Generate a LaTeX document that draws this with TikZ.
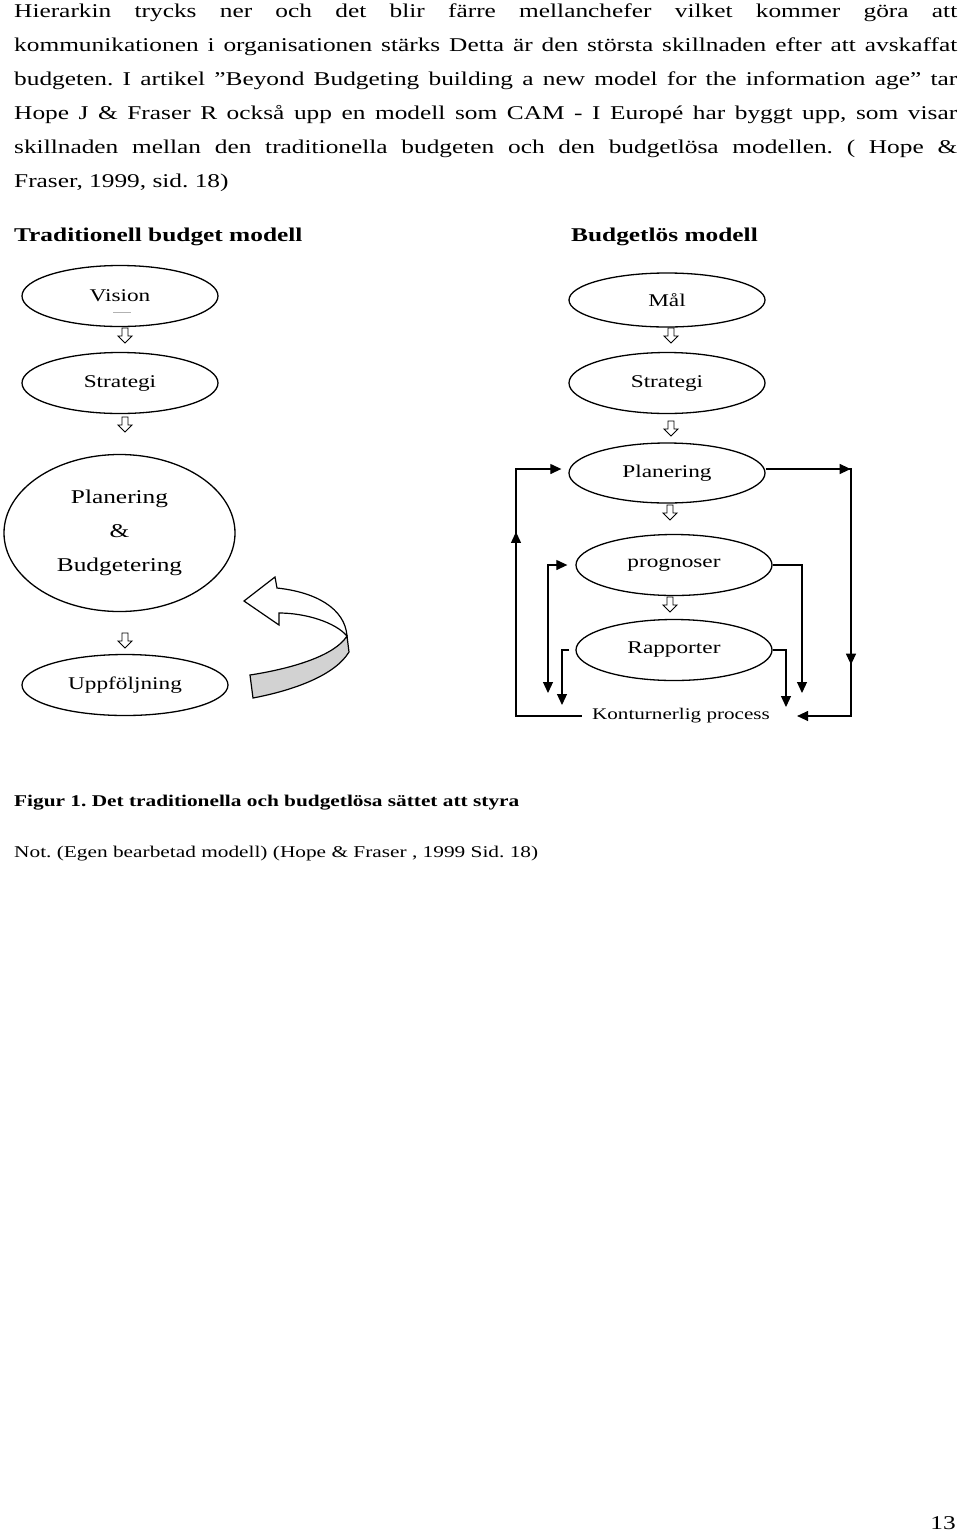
\documentclass[tikz,border=0pt]{standalone}
\usepackage{fontspec}
\setmainfont[FakeStretch=1.3]{Liberation Serif}
\frenchspacing
\usetikzlibrary{shapes.geometric,arrows.meta,decorations.markings,positioning}

\tikzset{
  boll/.style={draw, ellipse, line width=1.3pt, inner sep=0pt,
    minimum width=196pt, minimum height=61pt,
    font=\fontsize{17.9}{22}\selectfont},
  rad/.style={anchor=base west, inner sep=0pt, font=\fontsize{19.5}{34}\selectfont},
  linje/.style={line width=1.2pt},
  pil/.style={linje, -{Triangle[length=11pt,width=10pt]}},
  dubbelpil/.style={linje, {Triangle[length=11pt,width=10pt]}-{Triangle[length=11pt,width=10pt]}},
  pilned/.pic={\draw[line width=0.9pt] (-3,0) -- (3,0) -- (3,8) -- (7,8) -- (0,15) -- (-7,8) -- (-3,8) -- cycle;}
}

\begin{document}
\begin{tikzpicture}[x=1pt,y=-1pt]
  \useasboundingbox (0,0) rectangle (960,1532);

  % brodtext
  \node[rad] (rad1) at (14,17) {\makebox[943pt][s]{Hierarkin trycks ner och det blir färre mellanchefer vilket kommer göra att}};
  \node[rad] (rad2) at (14,51) {\makebox[943pt][s]{kommunikationen i organisationen stärks Detta är den största skillnaden efter att avskaffat}};
  \node[rad] (rad3) at (14,85) {\makebox[943pt][s]{budgeten. I artikel ”Beyond Budgeting building a new model for the information age” tar}};
  \node[rad] (rad4) at (14,119) {\makebox[943pt][s]{Hope J \& Fraser R också upp en modell som CAM - I Europé har byggt upp, som visar}};
  \node[rad] (rad5) at (14,153) {\makebox[943pt][s]{skillnaden mellan den traditionella budgeten och den budgetlösa modellen. ( Hope \&}};
  \node[rad] (rad6) at (14,187) {Fraser, 1999, sid. 18)};

  \node[rad] (rubrik1) at (14,241) {\bfseries Traditionell budget modell};
  \node[rad] (rubrik2) at (571,241) {\bfseries Budgetlös modell};

  % traditionell modell
  \node[boll] (vision) at (120,296) {Vision};
  \draw[gray!60, line width=0.8pt] (113,312) -- (131,312);
  \node[boll] (strat1) at (120,383) {Strategi};
  \node[boll, minimum width=231pt, minimum height=157pt,
        font=\fontsize{19.5}{34}\selectfont, align=center] (planbud) at (119.5,533)
        {Planering\\\&\\Budgetering};
  \node[boll, minimum width=206pt] (uppf) at (125,685) {Uppföljning};

  \pic at (125,328) {pilned};
  \pic at (125,417) {pilned};
  \pic at (125,633) {pilned};

  % den bojda pilen
  \draw[linje, fill=gray!35] (250,675) .. controls (295,668) and (335,655) .. (347,636)
    -- (349,652) .. controls (335,675) and (295,690) .. (253,698) -- cycle;
  \draw[linje, fill=white] (244,601) -- (275,577) -- (277,588)
    .. controls (315,592) and (345,608) .. (347,636)
    .. controls (335,622) and (305,613) .. (279,613) -- (279,625) -- cycle;

  % budgetlos modell
  \node[boll, minimum height=54pt] (mal) at (667,300) {Mål};
  \node[boll] (strat2) at (667,383) {Strategi};
  \node[boll, minimum height=60pt] (plan2) at (667,473) {Planering};
  \node[boll] (progn) at (674,565) {prognoser};
  \node[boll] (rapp) at (674,650) {Rapporter};
  \node[inner sep=10pt, font=\fontsize{16.25}{20}\selectfont] (kont) at (681,716) {Konturnerlig process};

  \pic at (671,328) {pilned};
  \pic at (671,421) {pilned};
  \pic at (670,505) {pilned};
  \pic at (670,597) {pilned};

  % yttre slingor
  \draw[pil, postaction={decorate}, decoration={markings,
      mark=at position 250pt with {\arrow{Triangle[length=11pt,width=10pt]}}}]
    (kont.west) -| (516,469) -- ([xshift=-7pt,yshift=4pt]plan2.west);
  \draw[pil, postaction={decorate}, decoration={markings,
      mark=at position 85pt with {\arrow{Triangle[length=11pt,width=10pt]}},
      mark=at position 281pt with {\arrow{Triangle[length=11pt,width=10pt]}}}]
    ([yshift=4pt]plan2.east) -- (851,469) -- (851,716) -- ([xshift=17pt]kont.east);

  % inre slingor
  \coordinate (pv) at (548,693);
  \draw[dubbelpil, shorten >=8pt] (pv) |- (progn.west);
  \draw[pil, shorten <=6pt] (rapp.west) -| (562,705);
  \draw[pil] (progn.east) -| (802,693);
  \draw[pil] (rapp.east) -| (786,707);

  % figurtext
  \node[rad, font=\fontsize{16.4}{20}\selectfont] (figur) at (14,806) {\bfseries Figur 1. Det traditionella och budgetlösa sättet att styra};
  \node[rad, font=\fontsize{16.4}{20}\selectfont] (not) at (14,857) {Not. (Egen bearbetad modell) (Hope \& Fraser , 1999 Sid. 18)};
  \node[rad, anchor=base east] (sida) at (956,1529) {13};
\end{tikzpicture}
\end{document}
